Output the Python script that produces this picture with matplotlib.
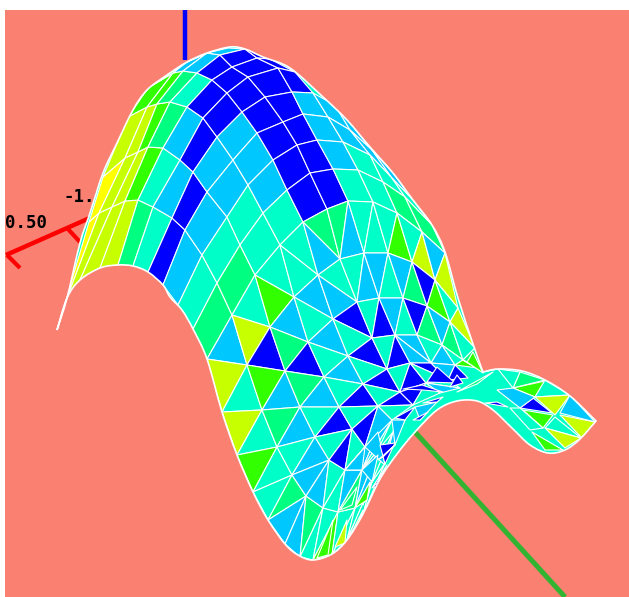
import matplotlib
matplotlib.use("Agg")
import matplotlib.pyplot as plt
from matplotlib.collections import PolyCollection
from matplotlib.colors import ListedColormap, BoundaryNorm
from matplotlib.path import Path
from matplotlib.patches import PathPatch

# Surface nodes: one list per rib, columns C-10 ... C10
N = None
rib_0 = [(57,330),(67,298),(80,280),(100,268),(118,265),(133,266),(148,272),(163,285),(178,305),(193,329),(207,359),(222,412),(237,455),(253,492),(268,520),(285,544),(300,557),(313,560),(332,555),(347,540),(363,514)]
rib_1 = [(89,222),(99,213),(112,207),(125,201),(138,200),(153,207),(172,218),(185,230),(202,255),(217,283),(232,315),(247,365),(262,410),(277,447),(292,475),(306,496),(323,508),(338,512),(355,508),(372,482),(385,463)]
rib_2 = [(103,177),(125,158),(138,152),(148,147),(163,148),(180,160),(193,172),(207,192),(227,217),(240,245),(255,275),(270,327),(285,371),(300,407),(315,437),(329,460),(345,470),(362,470),(378,450),(393,432),(405,420)]
rib_3 = [(128,117),(147,107),(157,104),(170,102),(187,107),(203,118),(217,137),(233,160),(248,185),(263,213),(280,245),(294,297),(308,342),(324,377),(339,407),(352,429),(365,447),(378,432),(392,420),N,N]
rib_4 = [(148,88),(173,73),(183,71),(197,73),(212,80),(227,93),(242,112),(257,133),(273,160),(287,190),(303,222),(318,275),(333,319),(348,356),(363,384),(378,406),(392,420),N,N,N,N]
rib_5 = [(167,75),(187,62),(207,53),(220,55),(232,67),(248,77),(265,97),(283,122),(297,145),(310,173),(327,209),(340,259),(357,302),(372,338),(387,369),(400,392),(413,405),N,N,N,N]
rib_6 = [N,(207,53),(228,48),(245,49),(257,58),(278,68),(292,92),(303,114),(317,140),(333,169),(348,201),(364,253),(379,298),(395,335),(410,363),(426,383),(440,393),N,N,N,N]
rib_7 = [N,N,N,(257,53),(270,59),(295,72),(313,93),(328,117),(343,142),(358,170),(373,202),(388,253),(403,298),(417,335),(431,363),(448,380),(460,388),N,N,N,N]
rib_8 = [N,N,N,N,N,N,(335,105),(350,130),(370,155),(383,182),(397,213),(412,262),(427,306),(442,345),(455,365),(468,378),N,N,N,N,N]
rib_9 = [N,N,N,N,N,N,(350,122),(372,150),(392,178),(405,197),(422,232),(435,280),(450,322),(463,360),(478,368),N,N,N,N,N,N]
rib_10 = [N,N,N,N,N,N,(370,147),(393,173),(413,200),(432,225),(445,253),(458,308),(475,348),(483,372),(498,369),N,N,N,N,N,N]
ribs = [rib_0, rib_1, rib_2, rib_3, rib_4, rib_5, rib_6, rib_7, rib_8, rib_9, rib_10]

# Colour level of each quad cell, columns C-10 ... C-1, one row per rib gap
quad_levels = [
    [6,5,5,5,3,2,0,1,2,3],
    [6,5,5,4,2,1,0,1,2,3],
    [5,5,4,3,1,0,1,1,2,2],
    [4,4,3,2,0,0,1,1,1,2],
    [3,1,1,0,0,0,0,0,0,0],
    [N,1,1,0,0,0,0,0,0,0],
    [N,N,N,0,0,0,1,1,1,2],
    [N,N,N,N,N,N,1,1,2,2],
    [N,N,N,N,N,N,1,1,2,3],
    [N,N,N,N,N,N,1,1,2,3],
]

# Triangle cells, columns C0 onward: (diagonal, level, level)
tri_levels = [
    [("a",1,5),("a",2,5),("a",2,4),("a",2,2),("a",3,1),("b",1,3),("b",2,2),("b",4,2),("b",2,2),("b",2,2)],
    [("a",2,5),("a",0,4),("a",1,3),("a",1,2),("a",1,1),("b",1,2),("b",2,1),("b",3,1),("b",1,2),("b",2,1)],
    [("a",2,4),("a",1,3),("a",0,3),("a",1,2),("a",0,2),("b",0,2),("a",2,1),("a",1,2)],
    [("a",2,2),("a",1,2),("a",1,2),("a",1,2),("a",0,2),("b",0,1)],
    [("a",3,1),("a",2,1),("a",0,2),("a",0,2),("a",0,2),("a",0,2)],
    [("b",3,1),("b",2,1),("b",2,0),("b",2,0),("b",2,0),("b",0,2)],
    [("b",2,2),("b",1,2),("b",1,2),("a",1,1),("a",0,2),("a",2,1)],
    [("b",2,4),("b",1,3),("b",0,3),("b",2,1),("b",1,0)],
    [("b",2,5),("b",0,4),("b",1,3),("b",2,4)],
    [("b",1,5),("b",2,5),("b",2,3),("b",1,3)],
]

# Outline of the whole surface, in three smooth runs
outline_top = [(57,330),(67,298),(80,243),(90,213),(103,173),(117,143),(133,110),(147,90),(167,75),(187,62),(207,53),(230,47),(245,49),(263,57),(290,68),(323,97),(347,120),(370,147),(393,173),(413,200),(432,225),(445,252),(458,298),(473,344),(483,372)]
outline_wing = [(483,372),(498,369),(522,371),(545,380),(570,396),(596,421)]
outline_low = [(596,421),(580,439),(565,450),(548,453),(530,445),(513,429),(493,410),(477,401),(457,401),(437,410),(415,432),(397,454),(380,479),(363,514),(347,540),(332,554),(313,560),(298,555),(285,544),(268,520),(253,492),(237,455),(222,412),(207,359),(193,329),(182,310),(170,297),(163,285),(148,272),(133,266),(118,265),(100,268),(80,280),(67,298),(57,330)]

# Separate faces of the right-hand wing and of the fold
wing_faces = [
    [(513,388),(545,380),(520,372)], [(513,388),(545,381),(535,397)], [(545,380),(570,395),(535,397)],
    [(535,397),(570,395),(555,415)], [(570,395),(595,422),(560,413)], [(560,415),(595,422),(582,438)],
    [(555,417),(581,438),(545,428)], [(545,428),(581,438),(565,448)], [(532,432),(563,450),(545,450)],
    [(533,398),(552,413),(520,408)], [(523,410),(553,415),(543,428)], [(498,369),(520,372),(513,388)],
    [(497,390),(513,388),(535,397),(520,408)], [(485,403),(497,402),(508,407)], [(510,408),(520,408),(543,428),(530,430)],
]
wing_levels = [3,4,2,5,1,5,2,5,4,0,4,2,1,0,2]

fold_faces = [
    [(365,447),(378,432),(385,465)], [(345,470),(365,447),(362,470)], [(362,470),(378,455),(372,482)],
    [(392,420),(405,420),(395,445)], [(415,407),(437,402),(420,420)],
    [(380,445),(395,443),(385,464)], [(373,487),(387,467),(378,487)], [(363,500),(372,480),(363,505)],
    [(335,547),(347,520),(345,543)], [(317,558),(333,520),(328,555)], [(340,510),(357,487),(352,505)],
    [(355,508),(370,482),(367,500)], [(372,488),(387,465),(377,483)], [(378,460),(395,445),(383,457)],
    [(352,532),(363,510),(358,525)], [(395,418),(415,407),(405,420)], [(413,420),(428,412),(420,420)],
    [(423,403),(443,397),(437,402)], [(403,389),(422,385),(443,392),(423,390)], [(427,382),(437,367),(455,383)],
    [(450,387),(457,375),(463,383)], [(457,392),(493,372),(477,384)], [(467,362),(483,373),(473,352)],
]
fold_levels = [1,1,1,1,1,0,0,4,5,4,3,4,0,0,5,0,0,0,0,0,0,3,4]

level_colors = ["#0000FF","#00C8FF","#00FFC8","#00FF80","#32FF00","#C8FF00","#FFFF00"]

# Axes furniture
blue_axis = [(185,10),(185,60)]
red_axis = [(6,255),(92,217)]
red_ticks = [[(7,255),(20,268)], [(67,228),(80,242)]]
green_axis = [(415,432),(565,597)]
labels = [("0.50",5,228),("-1.00",64,202)]


def smooth_run(pts):
    """Bezier path through the read points (Catmull-Rom handles)."""
    verts, codes = [pts[0]], [Path.MOVETO]
    for k in range(len(pts)-1):
        p0 = pts[max(k-1, 0)]; p1 = pts[k]; p2 = pts[k+1]; p3 = pts[min(k+2, len(pts)-1)]
        c1 = (p1[0]+(p2[0]-p0[0])/6, p1[1]+(p2[1]-p0[1])/6)
        c2 = (p2[0]-(p3[0]-p1[0])/6, p2[1]-(p3[1]-p1[1])/6)
        verts += [c1, c2, p2]; codes += [Path.CURVE4]*3
    return verts, codes


fig = plt.figure(figsize=(6.29,5.97), dpi=100, facecolor="white")
ax = fig.add_axes([5/629, 0, 624/629, 587/597])
ax.set_xlim(5,629); ax.set_ylim(597,10)
ax.set_facecolor("#FA8072")
ax.set_xticks([]); ax.set_yticks([])
for s in ax.spines.values():
    s.set_visible(False)

ax.plot(*zip(*blue_axis), color="#0000FF", lw=3.2, solid_capstyle="butt", zorder=1)
ax.plot(*zip(*green_axis), color="#32B432", lw=3.6, solid_capstyle="butt", zorder=1)
ax.plot(*zip(*red_axis), color="#FF0000", lw=3.2, solid_capstyle="butt", zorder=1)
for t in red_ticks:
    ax.plot(*zip(*t), color="#FF0000", lw=3.0, solid_capstyle="butt", zorder=1)
for s, x, y in labels:
    ax.text(x, y, s, family="DejaVu Sans Mono", weight="bold", fontsize=12.5, color="black", zorder=1, va="baseline", clip_on=True)

faces, levels = [], []
for j, row in enumerate(quad_levels):
    for i, lev in enumerate(row):
        if lev is None:
            continue
        a, b, c, d = ribs[j][i], ribs[j][i+1], ribs[j+1][i], ribs[j+1][i+1]
        if None in (a, b, c, d):
            continue
        faces.append([a, b, d, c]); levels.append(lev)
for j, row in enumerate(tri_levels):
    for k, (diag, l1, l2) in enumerate(row):
        i = k + 10
        a, b, c, d = ribs[j][i], ribs[j][i+1], ribs[j+1][i], ribs[j+1][i+1]
        if None in (a, b, c, d):
            continue
        if diag == "a":
            faces += [[a, c, d], [a, b, d]]
        else:
            faces += [[a, b, c], [b, c, d]]
        levels += [l1, l2]

verts, codes = [], []
for run in (outline_top, outline_wing, outline_low):
    v, c = smooth_run(run)
    if verts:
        v, c = v[1:], c[1:]
    verts += v; codes += c
surface_path = Path(verts, codes)

cmap = ListedColormap(level_colors)
norm = BoundaryNorm([i-0.5 for i in range(8)], 7)
ax.add_patch(PathPatch(surface_path, facecolor=level_colors[2], edgecolor="none", zorder=2))
for fs, ls, z in [(wing_faces, wing_levels, 3), (faces, levels, 4), (fold_faces, fold_levels, 5)]:
    pc = PolyCollection(fs, array=ls, cmap=cmap, norm=norm, edgecolors="white", linewidths=0.8, zorder=z)
    ax.add_collection(pc)
    pc.set_clip_path(surface_path, transform=ax.transData)
ax.add_patch(PathPatch(surface_path, facecolor="none", edgecolor="white", lw=1.2, zorder=6))
fig.savefig("out.png", dpi=100)
